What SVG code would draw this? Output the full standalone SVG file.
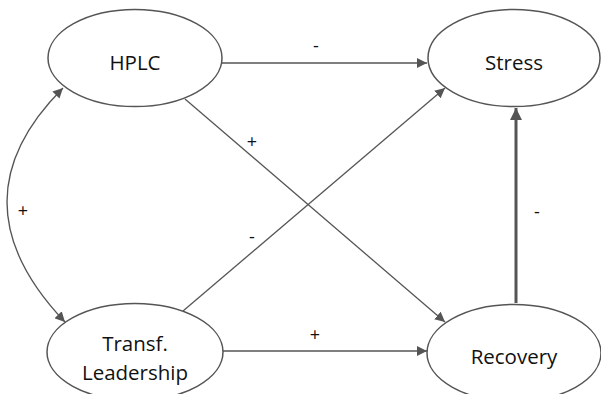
<svg xmlns="http://www.w3.org/2000/svg" width="601" height="394" viewBox="0 0 601 394">
<style>
.node ellipse{fill:#fff;stroke:#555;stroke-width:1.5}
.node text,.lbl{font-family:"Open Sans","DejaVu Sans",sans-serif;font-size:20.5px;fill:#111;text-anchor:middle}
.lbl{font-size:18px}
.edge{fill:none;stroke:#555;stroke-width:1.3}
.thick{stroke-width:3}
</style>
<defs>
<marker id="ah" viewBox="0 0 10 10" refX="10" refY="5" markerWidth="10" markerHeight="10" markerUnits="userSpaceOnUse" orient="auto-start-reverse">
<path d="M0,0 L10,5 L0,10 Z" fill="#555"/>
</marker>
<marker id="ah2" viewBox="0 0 10 10" refX="10" refY="5" markerWidth="12" markerHeight="12" markerUnits="userSpaceOnUse" orient="auto">
<path d="M0,0 L10,5 L0,10 Z" fill="#555"/>
</marker>
</defs>
<g id="connectors">
<path class="edge" d="M222,63 L427,63" marker-end="url(#ah)"/>
<path class="edge" d="M185,99 L445,322" marker-end="url(#ah)"/>
<path class="edge" d="M183,311 L445,88" marker-end="url(#ah)"/>
<path class="edge" d="M222,351 L427,351" marker-end="url(#ah)"/>
<path class="edge thick" d="M516,303 L516,108" marker-end="url(#ah2)"/>
<path class="edge" d="M63,88 Q-50,201 65,322" marker-start="url(#ah)" marker-end="url(#ah)"/>
<text class="lbl" x="316" y="52">-</text>
<text class="lbl" x="252" y="148">+</text>
<text class="lbl" x="252" y="243">-</text>
<text class="lbl" x="315" y="341">+</text>
<text class="lbl" x="537" y="218">-</text>
<text class="lbl" x="23" y="217">+</text>
</g>
<g id="hplc" class="node">
<ellipse cx="135" cy="58" rx="87" ry="48.5"/>
<text x="135" y="70">HPLC</text>
</g>
<g id="stress" class="node">
<ellipse cx="514" cy="58" rx="86" ry="48.5"/>
<text x="514" y="70">Stress</text>
</g>
<g id="transf" class="node">
<ellipse cx="135" cy="352" rx="88" ry="48.5"/>
<text x="135" y="351">Transf.</text>
<text x="135" y="380">Leadership</text>
</g>
<g id="recovery" class="node">
<ellipse cx="514" cy="353" rx="87" ry="48.5"/>
<text x="514" y="364">Recovery</text>
</g>
</svg>
